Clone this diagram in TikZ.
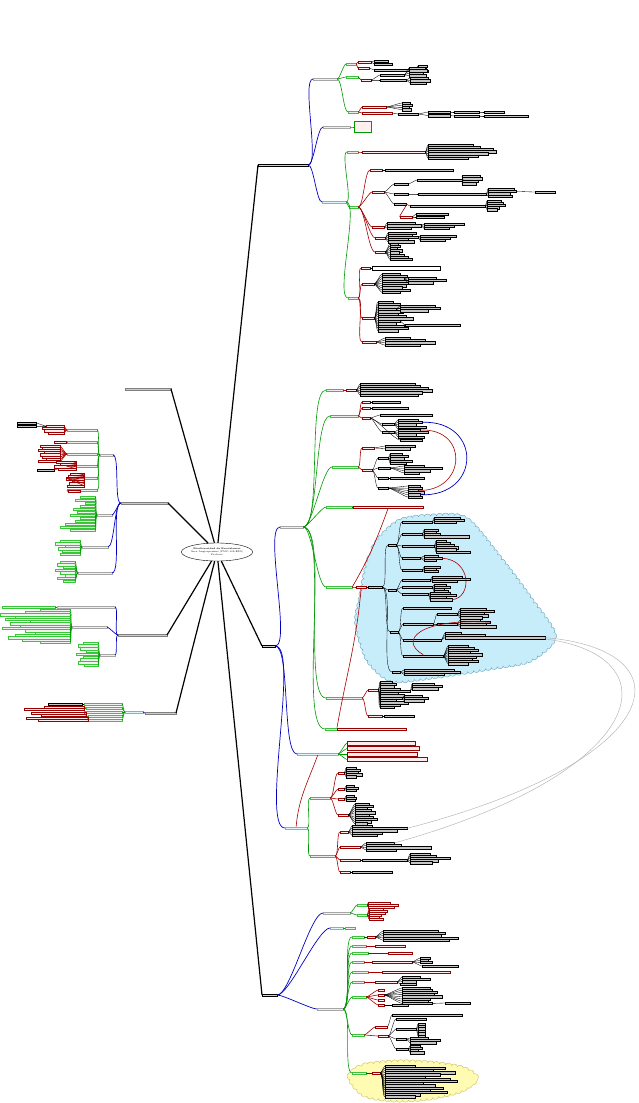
\documentclass[tikz,border=0pt]{standalone}
\usepackage{fontspec}
\usepackage{tikz}
\usetikzlibrary{shapes.geometric, decorations.pathmorphing}

\tikzset{
  lv1/.style={line width=1.2pt, black},
  lv2/.style={line width=.7pt, blue!75!black},
  lv3/.style={line width=.6pt, green!60!black},
  lv4/.style={line width=.6pt, red!65!black},
  lv5/.style={line width=.35pt, black},
  box/.style={draw, line width=.25pt, minimum height=2.4pt, inner sep=0pt},
  topic/.style={box, fill=gray!35},
  topicl/.style={box, fill=violet!25, draw=gray},
  sub/.style={box, fill=cyan!12, draw=gray!70},
  grn/.style={box, fill=gray!15, draw=green!50!gray},
  gleaf/.style={box, fill=green!8!gray!12, draw=green!55!gray},
  pnk/.style={box, fill=red!8, draw=red!60!black},
  pnkbox/.style={pnk, minimum height=4pt},
  note/.style={box, minimum height=11pt, fill=red!6, draw=green!60!black},
  leaf/.style={box, fill=gray!45, draw=black},
  wleaf/.style={box, fill=white, draw=black, minimum height=3.5pt},
  cloud line/.style={line width=.4pt, decorate,
    decoration={bumps, segment length=12pt, amplitude=2.2pt}},
}

% branch to the right / to the left: style, parent, name, position, width, edge
\newcommand{\rb}[6]{\node[#1, anchor=west, minimum width=#5pt] (#3) at (#4) {};
  \draw[#6] (#2.east) to[out=0,in=180,looseness=.35] (#3.west);}
\newcommand{\lb}[6]{\node[#1, anchor=east, minimum width=#5pt] (#3) at (#4) {};
  \draw[#6] (#2.west) to[out=180,in=0,looseness=.35] (#3.east);}
% fans: parent, prefix, x, first y, step, widths, style, edge
\newcommand{\rfan}[8]{\foreach \w [count=\i] in {#6}{%
  \node[#7, anchor=west, minimum width=\w pt] (#2\i) at ({#3},{#4+(\i-1)*#5}) {};
  \draw[#8] (#1.east) to[out=0,in=180,looseness=.35] (#2\i.west);}}
\newcommand{\lfan}[8]{\foreach \w [count=\i] in {#6}{%
  \node[#7, anchor=east, minimum width=\w pt] (#2\i) at ({#3},{#4+(\i-1)*#5}) {};
  \draw[#8] (#1.west) to[out=180,in=0,looseness=.35] (#2\i.east);}}

\begin{document}
\begin{tikzpicture}[x=1pt, y=-1pt]
\useasboundingbox (0,0) rectangle (638,1103);

% clouds
\draw[cloud line, fill=cyan!22, draw=cyan!45!gray]
  plot[smooth cycle] coordinates {(360,600) (372,550) (398,522) (432,516) (466,519)
  (500,558) (530,598) (554,636) (530,660) (490,668) (432,677) (392,680) (368,660) (357,625)};
\draw[cloud line, fill=yellow!30, draw=olive!50]
  plot[smooth cycle] coordinates {(350,1078) (362,1066) (395,1062) (430,1063) (462,1068)
  (476,1078) (462,1090) (430,1098) (395,1100) (365,1095)};

% centre and main topics
\node[ellipse, draw, line width=.4pt, fill=white, minimum width=44pt, minimum height=18pt,
  inner sep=-1pt, align=center, font=\fontsize{2.4}{2.9}\selectfont] (ctr) at (217,552)
  {\textbf{Biodiversidad de Ecosistemas}\\Área Angiospermas (PMC-103-EXS)\\Profesor};
\node[topic, anchor=west, minimum width=50pt] (r1) at (258,165) {};
\node[topic, anchor=west, minimum width=13pt] (r2) at (262,646) {};
\node[topic, anchor=west, minimum width=15pt] (r3) at (262,995) {};
\node[topicl, anchor=east, minimum width=46pt] (l1) at (171,389) {};
\node[topicl, anchor=east, minimum width=47pt] (l2) at (168,503) {};
\node[topicl, anchor=east, minimum width=49pt] (l3) at (167,635) {};
\node[topicl, anchor=east, minimum width=31pt] (l4) at (176,713) {};
\foreach \t in {r1,r2,r3} \draw[lv1] (ctr) -- (\t.west);
\foreach \t in {l1,l2,l3,l4} \draw[lv1] (ctr) -- (\t.east);

% ---- r1
\rb{sub}{r1}{b11}{313,79}{24}{lv2}
\rb{sub}{r1}{b12}{323,127}{27}{lv2}
\rb{sub}{r1}{b13}{322,202}{24}{lv2}
\rb{note}{b12}{n12}{354,127}{17}{lv3}
\rb{grn}{b11}{c1}{346,64}{10}{lv3}
\rb{grn}{b11}{c2}{346,77}{12}{lv3}
\rb{grn}{b11}{c3}{348,112}{10}{lv3}
\rfan{c1}{c1e}{358}{62}{6}{13,11}{pnk}{lv4}
\rfan{c1e1}{c1f}{374}{61}{3}{14,18}{leaf}{lv5}
\rb{leaf}{c1e2}{c1g}{374,70}{40}{lv5}
\rfan{c1g}{c1h}{418}{66}{2.5}{9,8,10}{leaf}{lv5}
\rb{pnk}{c2}{c2e}{361,80}{10}{lv4}
\rfan{c2e}{c2f}{380}{75}{5}{24,26}{leaf}{lv5}
\rfan{c2f1}{c2g}{409}{68}{2.5}{16,18,14,17}{leaf}{lv5}
\rfan{c2f2}{c2h}{410}{78}{2.5}{18,20,16}{leaf}{lv5}
\rfan{c3}{c3e}{362}{107}{6}{24,30}{pnk}{lv4}
\rfan{c3e1}{c3f}{402}{103}{2.2}{8,10,7,9}{leaf}{lv5}
\rb{leaf}{c3e2}{c3g}{398,114}{20}{lv5}
\rfan{c3g}{c3h}{428}{112}{3.5}{22,22}{leaf}{lv5}
\rb{leaf}{c3h1}{c3i}{454,112}{25}{lv5}
\rb{leaf}{c3h2}{c3j}{454,116}{25}{lv5}
\rb{leaf}{c3i}{c3k}{484,112}{20}{lv5}
\rb{leaf}{c3j}{c3l}{484,116}{44}{lv5}
\rb{grn}{b13}{c4}{347,152}{11}{lv3}
\rb{grn}{b13}{c5}{349,207}{9}{lv3}
\rb{grn}{b13}{c6}{348,298}{10}{lv3}
\rb{pnk}{c4}{c4e}{362,152}{63}{lv4}
\rfan{c4e}{c4f}{428}{145}{2.2}{45,52,65,68,60,50,40}{leaf}{lv5}
\rb{pnk}{c5}{c5a}{370,170}{12}{lv4}
\rb{leaf}{c5a}{c5a1}{385,170}{68}{lv5}
\rb{pnk}{c5}{c5b}{372,192}{12}{lv4}
\rfan{c5b}{c5c}{394}{184}{10}{14,14,12}{leaf}{lv5}
\rb{leaf}{c5c1}{c5d}{417,180}{46}{lv5}
\rfan{c5d}{c5e}{462}{176}{2.5}{18,20,16,14}{leaf}{lv5}
\rb{leaf}{c5c2}{c5f}{418,194}{68}{lv5}
\rfan{c5f}{c5g}{488}{189}{2.4}{26,28,22,24}{leaf}{lv5}
\rb{leaf}{c5g2}{c5h}{535,192}{20}{lv5}
\rb{leaf}{c5c3}{c5j}{410,206}{75}{lv5}
\rfan{c5j}{c5k}{487}{201}{2.2}{14,16,18,12,10}{leaf}{lv5}
\rb{pnk}{c5c3}{c5l}{400,217}{12}{lv4}
\rfan{c5l}{c5m}{416}{214}{3}{32,28}{leaf}{lv5}
\rb{pnk}{c5}{c5n}{372,227}{12}{lv4}
\rfan{c5n}{c5o}{387}{223}{2.5}{28,34,24}{leaf}{lv5}
\rfan{c5o2}{c5p}{424}{224}{2.2}{40,30,25}{leaf}{lv5}
\rb{pnk}{c5}{c5q}{375,238}{10}{lv4}
\rfan{c5q}{c5r}{388}{233}{2.2}{28,24,30,20,26}{leaf}{lv5}
\rfan{c5r3}{c5s}{420}{236}{2.2}{36,30,25}{leaf}{lv5}
\rb{pnk}{c5}{c5t}{375,252}{10}{lv4}
\rfan{c5t}{c5u}{390}{244}{2.2}{8,10,7,12,9,14,18,22}{leaf}{lv5}
\rb{pnk}{c6}{c6a}{361,268}{9}{lv4}
\rb{wleaf}{c6a}{c6a1}{372,268}{68}{lv5}
\rb{pnk}{c6}{c6b}{362,284}{12}{lv4}
\rfan{c6b}{c6c}{382}{274}{2.3}{18,25,22,26,30,24,20,28,18}{leaf}{lv5}
\rfan{c6c3}{c6d}{408}{278}{2.3}{28,38,25}{leaf}{lv5}
\rb{pnk}{c6}{c6e}{362,318}{12}{lv4}
\rfan{c6e}{c6f}{378}{302}{2.4}{15,22,30,18,25,20,28,35,22,18,26,30,20}{leaf}{lv5}
\rfan{c6f4}{c6g}{400}{306}{2.4}{35,40,28}{leaf}{lv5}
\rb{leaf}{c6f9}{c6h}{405,325}{55}{lv5}
\rb{pnk}{c6}{c6i}{362,342}{14}{lv4}
\rfan{c6i}{c6j}{385}{338}{2.4}{25,40,50,35}{leaf}{lv5}

% ---- r2
\rb{sub}{r2}{b21}{280,527}{23}{lv2}
\rb{sub}{r2}{b22}{297,754}{41}{lv2}
\rb{sub}{r2}{b23}{285,828}{22}{lv2}
\rb{grn}{b21}{d1}{326,390}{17}{lv3}
\rb{grn}{b21}{d2}{330,416}{28}{lv3}
\rb{grn}{b21}{d3}{332,467}{26}{lv3}
\rb{grn}{b21}{d4}{326,507}{26}{lv3}
\rb{grn}{b21}{d5}{326,587}{26}{lv3}
\rb{grn}{b21}{d6}{326,698}{36}{lv3}
\rb{grn}{b21}{d7}{325,729}{12}{lv3}
\rb{pnk}{d1}{d1a}{346,390}{10}{lv4}
\rfan{d1a}{d1b}{360}{384}{2.2}{55,60,68,72,62,58}{leaf}{lv5}
\rfan{d2}{d2a}{362}{402}{6}{8,8}{pnk}{lv4}
\rb{leaf}{d2a1}{d2b}{372,402}{28}{lv5}
\rb{leaf}{d2a2}{d2c}{372,408}{36}{lv5}
\rb{pnk}{d2}{d2d}{362,418}{8}{lv4}
\rb{leaf}{d2d}{d2f}{380,415}{52}{lv5}
\rfan{d2d}{d2g}{382}{424}{8}{12,12}{leaf}{lv5}
\rfan{d2g1}{d2h}{398}{420}{2.3}{20,24,18,28,22}{leaf}{lv5}
\rfan{d2g2}{d2i}{398}{430}{2.3}{22,30,18,26}{leaf}{lv5}
\rb{leaf}{d2d}{d2j}{400,440}{22}{lv5}
\rb{pnk}{d3}{d3a}{362,448}{12}{lv4}
\rfan{d3a}{d3b}{385}{446}{2.5}{30,25}{leaf}{lv5}
\rb{pnk}{d3}{d3c}{362,470}{10}{lv4}
\rfan{d3c}{d3d}{378}{458}{10}{10,12,10,10}{leaf}{lv5}
\rfan{d3d1}{d3e}{390}{454}{2.3}{12,18,14,22,16}{leaf}{lv5}
\rfan{d3d2}{d3f}{404}{466}{2.3}{20,38,26,15}{leaf}{lv5}
\rb{leaf}{d3d3}{d3g}{390,478}{34}{lv5}
\rfan{d3d4}{d3h}{408}{486}{2.2}{12,14,10,16,12,14}{leaf}{lv5}
\rb{pnk}{d4}{d4a}{353,507}{70}{lv4}
\rb{pnk}{d5}{d5a}{356,587}{10}{lv4}
\rb{leaf}{d5a}{d5b}{368,587}{14}{lv5}
\rb{leaf}{d5b}{t1}{388,545}{8}{lv5}
\rb{leaf}{d5b}{t2}{388,590}{8}{lv5}
\rb{leaf}{d5b}{t3}{390,632}{8}{lv5}
\rb{leaf}{d5b}{t4}{392,672}{8}{lv5}
\rfan{t1}{t1a}{402}{522}{12}{30,20,32,18,20}{leaf}{lv5}
\rfan{t1a1}{t1b}{434}{518}{2.2}{26,30,22}{leaf}{lv5}
\rfan{t1a2}{t1c}{424}{530}{2.2}{14,12,16,45}{leaf}{lv5}
\rfan{t1a3}{t1d}{436}{541}{2.2}{10,14,18,22,20,34}{leaf}{lv5}
\rfan{t1a4}{t1e}{424}{556}{2.2}{14,18,12}{leaf}{lv5}
\rfan{t1a5}{t1f}{424}{567}{2.2}{16,12,14}{leaf}{lv5}
\rfan{t2}{t2a}{402}{580}{7}{28,30,26}{leaf}{lv5}
\rfan{t2a1}{t2b}{432}{577}{2.2}{30,38,25}{leaf}{lv5}
\rfan{t2a2}{t2c}{434}{585}{2.2}{12,16,10,14}{leaf}{lv5}
\rfan{t2a3}{t2d}{430}{593}{2.2}{20,26,16,22}{leaf}{lv5}
\rfan{t3}{t3a}{403}{608}{16}{48,30,38,40}{leaf}{lv5}
\rfan{t3a2}{t3b}{437}{614}{10}{20,20}{leaf}{lv5}
\rfan{t3b1}{t3c}{460}{609}{2.2}{26,34,24,28,22}{leaf}{lv5}
\rfan{t3b2}{t3d}{460}{620}{2.2}{20,30,26,36}{leaf}{lv5}
\rfan{t3a3}{t3e}{445}{633}{2.3}{16,40,100}{leaf}{lv5}
\rfan{t3a4}{t3f}{448}{646}{2.2}{20,26,30,22,34,28,24,30,20}{leaf}{lv5}
\rfan{t4}{t4a}{404}{670}{2.2}{50,56,40}{leaf}{lv5}
\draw[lv4] (t1e2.east) .. controls (472,560) and (472,598) .. (t2d4.east);
\draw[lv4] (t3d2.east) .. controls (420,618) and (398,640) .. (t3a4.north);
\rb{pnk}{d6}{d6a}{368,690}{10}{lv4}
\rfan{d6a}{d6b}{380}{682}{2.3}{12,16,14,20,30,18,24,22,16,28,20,14}{leaf}{lv5}
\rfan{d6b5}{d6c}{412}{684}{2.3}{22,30,26}{leaf}{lv5}
\rfan{d6b8}{d6d}{404}{696}{2.3}{18,24,20}{leaf}{lv5}
\rb{pnk}{d6}{d6e}{368,716}{14}{lv4}
\rb{leaf}{d6e}{d6f}{384,716}{30}{lv5}
\rb{pnk}{d7}{d7a}{337,729}{69}{lv4}
\draw[lv2] (d2h2.east) .. controls (482,420) and (482,497) .. (d3h5.east);
\draw[lv4] (d2i1.east) .. controls (470,428) and (466,492) .. (d3h3.east);
\draw[lv4] (d5.east) to[out=60,in=250] (d4a.south);
\draw[lv4] (d7a.north west) to[out=80,in=265] (d5a.south);
\rfan{b22}{b22a}{347}{743}{5.5}{68,72,70,80}{pnkbox}{lv3}
\draw[lv4] (b22.south) to[out=250,in=85] (b23.north);
\rb{grn}{b23}{d8}{310,798}{20}{lv3}
\rb{grn}{b23}{d9}{310,856}{25}{lv3}
\rb{pnk}{d8}{d8a}{338,773}{6}{lv4}
\rfan{d8a}{d8b}{346}{768}{2.2}{10,14,12,16,10}{leaf}{lv5}
\rb{pnk}{d8}{d8c}{338,789}{6}{lv4}
\rfan{d8c}{d8d}{346}{786}{2.2}{8,12,10}{leaf}{lv5}
\rb{pnk}{d8}{d8e}{338,799}{6}{lv4}
\rfan{d8e}{d8f}{346}{796}{2.2}{8,10,9}{leaf}{lv5}
\rb{pnk}{d8}{d8g}{338,815}{10}{lv4}
\rfan{d8g}{d8h}{355}{804}{2.2}{14,18,12,16,20,14,18,22,16,12}{leaf}{lv5}
\rb{pnk}{d9}{d9a}{340,832}{8}{lv4}
\rfan{d9a}{d9b}{352}{826}{2.3}{20,55,45,30,25}{leaf}{lv5}
\rb{pnk}{d9}{d9c}{340,847}{20}{lv4}
\rfan{d9c}{d9d}{366}{843}{2.3}{28,35,65,30}{leaf}{lv5}
\rb{pnk}{d9}{d9e}{340,860}{20}{lv4}
\rb{leaf}{d9e}{d9f}{362,860}{45}{lv5}
\rfan{d9f}{d9g}{410}{854}{2.2}{20,26,40,28,22}{leaf}{lv5}
\rb{pnk}{d9}{d9h}{340,872}{10}{lv4}
\rb{leaf}{d9h}{d9i}{352,872}{40}{lv5}
\draw[gray!60, line width=.45pt] (t3e3.east) .. controls (690,650) and (670,760) .. (d9b2.east);
\draw[gray!60, line width=.45pt] (t3e3.south east) .. controls (675,656) and (650,772) .. (d9d1.east);

% ---- r3
\rb{sub}{r3}{b31}{323,913}{27}{lv2}
\rb{sub}{r3}{b32}{330,928}{13}{lv2}
\rb{sub}{r3}{b33}{317,1009}{26}{lv2}
\rfan{b31}{e1}{357}{905}{10}{10,10}{grn}{lv3}
\rfan{e11}{e1a}{368}{903}{2}{22,30,26}{pnk}{lv4}
\rfan{e12}{e1b}{369}{909}{2}{14,18,16,12,10,14}{pnk}{lv4}
\rb{grn}{b32}{e2}{345,928}{10}{lv3}
\rb{grn}{b33}{f1}{352,937}{12}{lv3}
\rb{grn}{b33}{f2}{352,946}{14}{lv3}
\rb{grn}{b33}{f3}{352,953}{16}{lv3}
\rb{grn}{b33}{f4}{352,962}{12}{lv3}
\rb{grn}{b33}{f5}{352,972}{16}{lv3}
\rb{grn}{b33}{f6}{352,982}{12}{lv3}
\rb{grn}{b33}{f7}{352,997}{14}{lv3}
\rb{grn}{b33}{f8}{352,1035}{12}{lv3}
\rb{grn}{b33}{f9}{352,1073}{14}{lv3}
\rb{pnk}{f1}{f1a}{367,937}{8}{lv4}
\rfan{f1a}{f1b}{383}{931}{2.3}{55,62,58,75,66}{leaf}{lv5}
\rb{pnk}{f2}{f2a}{375,946}{30}{lv4}
\rb{pnk}{f3}{f3a}{388,953}{24}{lv4}
\rb{pnk}{f4}{f4a}{372,962}{40}{lv4}
\rfan{f4a}{f4b}{420}{958}{2.2}{10,8,12}{leaf}{lv5}
\rb{leaf}{f4a}{f4c}{422,966}{36}{lv5}
\rb{pnk}{f5}{f5a}{382,972}{68}{lv4}
\rb{pnk}{f6}{f6a}{375,982}{22}{lv4}
\rfan{f6a}{f6b}{402}{977}{2.3}{18,28,14}{leaf}{lv5}
\rb{leaf}{f6a}{f6c}{400,984}{16}{lv5}
\rfan{f7}{f7a}{378}{990}{5}{6,6,6,6}{pnk}{lv4}
\rfan{f7a2}{f7b}{402}{988}{2.2}{28,30,35,32,40,28,26,30}{leaf}{lv5}
\rb{leaf}{f7a4}{f7c}{392,1005}{16}{lv5}
\rb{leaf}{f7b8}{f7d}{445,1003}{25}{lv5}
\rb{pnk}{f8}{f8a}{375,1027}{12}{lv4}
\rb{pnk}{f8}{f8b}{378,1036}{10}{lv4}
\rb{leaf}{f8a}{f8c}{392,1015}{70}{lv5}
\rfan{f8b}{f8d}{396}{1019}{10}{30,20,10,12}{leaf}{lv5}
\rfan{f8d2}{f8f}{418}{1024}{2.4}{7,7,7,7,7,7}{leaf}{lv5}
\rfan{f8d3}{f8g}{410}{1038}{2.3}{18,30,26}{leaf}{lv5}
\rfan{f8d4}{f8h}{410}{1046}{2.2}{10,12,8,14}{leaf}{lv5}
\rb{pnk}{f9}{f9a}{372,1073}{8}{lv4}
\rfan{f9a}{f9b}{385}{1066}{2.2}{30,60,48,70,55,40,65,72,38,50,58,45,62,35,30}{leaf}{lv5}

% ---- l2
\lb{sub}{l2}{lb1}{113,455}{13}{lv2}
\lb{sub}{l2}{lb2}{112,515}{15}{lv2}
\lb{sub}{l2}{lb3}{108,547}{26}{lv2}
\lb{sub}{l2}{lb4}{112,573}{34}{lv2}
\lfan{lb1}{g}{97}{430}{12}{30,30,30,30,30,30}{gleaf}{lv3}
\lfan{g1}{g1a}{64}{426}{2.4}{18,22,20,16}{pnk}{lv4}
\lfan{g1a1}{g1b}{36}{423}{3}{19,19}{leaf}{lv5}
\lb{pnk}{g2}{g2a}{66,442}{12}{lv4}
\lfan{g3}{g3a}{60}{446}{2.2}{20,18,22,16,20,18,14,22}{pnk}{lv4}
\lfan{g4}{g4a}{76}{462}{2.3}{20,16,22,18}{pnk}{lv4}
\lb{leaf}{g4a4}{g4b}{54,470}{17}{lv5}
\lfan{g5}{g5a}{84}{474}{2.4}{14,16,18,12,15,17}{pnk}{lv4}
\lb{pnk}{g6}{g6a}{80,491}{12}{lv4}
\lfan{lb2}{h}{95}{497}{3}{15,20,10,15,22,18,25,15,20,30,35,25}{gleaf}{lv3}
\lfan{lb3}{i}{80}{541}{2.6}{20,25,15,22,18,20}{gleaf}{lv3}
\lfan{lb4}{j}{75}{562}{2.7}{15,18,12,20,15,10,18,12}{gleaf}{lv3}

% ---- l3
\lb{sub}{l3}{lb5}{115,607}{58}{lv2}
\lb{sub}{l3}{lb6}{107,627}{35}{lv2}
\lb{sub}{l3}{lb7}{115,655}{15}{lv2}
\lb{gleaf}{lb5}{k0}{55,607}{53}{lv3}
\lfan{lb6}{k}{70}{610}{2.3}{30,45,70,55,65,40,60,50,68,45,35,55,62,48,30}{gleaf}{lv3}
\lfan{lb7}{m}{98}{643}{2.8}{15,20,18,12,22,15,18,20,14}{gleaf}{lv3}

% ---- l4
\lb{sub}{l4}{lb8}{143,712}{18}{lv2}
\lfan{lb8}{n}{122}{704}{4}{38,36,38,34,36}{gleaf}{lv3}
\lb{leaf}{n1}{n1a}{82,704}{34}{lv5}
\lfan{n2}{n2a}{84}{707}{2.4}{40,60}{pnk}{lv4}
\lfan{n3}{n3a}{86}{713}{2.4}{55,45}{pnk}{lv4}
\lfan{n4}{n4a}{88}{718}{2.4}{62,50}{pnk}{lv4}
\end{tikzpicture}
\end{document}
